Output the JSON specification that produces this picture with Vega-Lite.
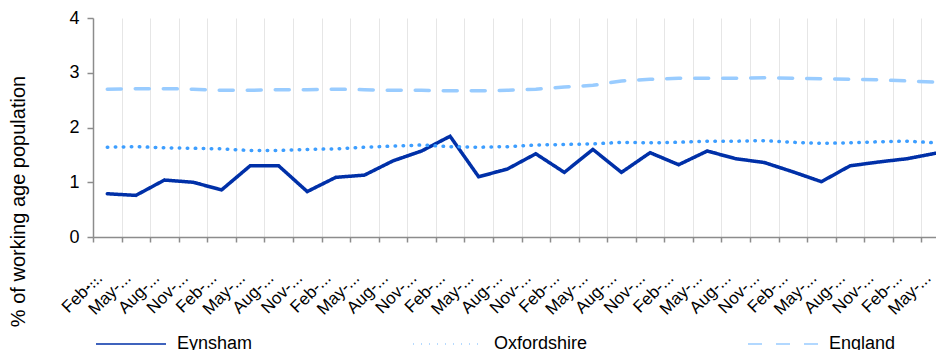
{
  "$schema": "https://vega.github.io/schema/vega-lite/v6.json",
  "width": 843,
  "height": 219,
  "autosize": {"type": "none"},
  "padding": {"left": 93, "top": 18, "right": 0, "bottom": 113},
  "config": {"font": "Liberation Sans", "view": {"stroke": null}},
  "data": {
    "values": [
      {"period": "Feb-2012", "Eynsham": 0.79, "Oxfordshire": 1.64, "England": 2.70},
      {"period": "May-2012", "Eynsham": 0.76, "Oxfordshire": 1.65, "England": 2.71},
      {"period": "Aug-2012", "Eynsham": 1.04, "Oxfordshire": 1.63, "England": 2.71},
      {"period": "Nov-2012", "Eynsham": 1.00, "Oxfordshire": 1.62, "England": 2.70},
      {"period": "Feb-2013", "Eynsham": 0.86, "Oxfordshire": 1.61, "England": 2.68},
      {"period": "May-2013", "Eynsham": 1.30, "Oxfordshire": 1.58, "England": 2.68},
      {"period": "Aug-2013", "Eynsham": 1.30, "Oxfordshire": 1.58, "England": 2.69},
      {"period": "Nov-2013", "Eynsham": 0.83, "Oxfordshire": 1.60, "England": 2.69},
      {"period": "Feb-2014", "Eynsham": 1.09, "Oxfordshire": 1.61, "England": 2.70},
      {"period": "May-2014", "Eynsham": 1.13, "Oxfordshire": 1.64, "England": 2.69},
      {"period": "Aug-2014", "Eynsham": 1.39, "Oxfordshire": 1.66, "England": 2.68},
      {"period": "Nov-2014", "Eynsham": 1.57, "Oxfordshire": 1.68, "England": 2.68},
      {"period": "Feb-2015", "Eynsham": 1.84, "Oxfordshire": 1.65, "England": 2.67},
      {"period": "May-2015", "Eynsham": 1.10, "Oxfordshire": 1.64, "England": 2.67},
      {"period": "Aug-2015", "Eynsham": 1.24, "Oxfordshire": 1.65, "England": 2.68},
      {"period": "Nov-2015", "Eynsham": 1.52, "Oxfordshire": 1.68, "England": 2.70},
      {"period": "Feb-2016", "Eynsham": 1.18, "Oxfordshire": 1.69, "England": 2.74},
      {"period": "May-2016", "Eynsham": 1.60, "Oxfordshire": 1.70, "England": 2.77},
      {"period": "Aug-2016", "Eynsham": 1.18, "Oxfordshire": 1.73, "England": 2.85},
      {"period": "Nov-2016", "Eynsham": 1.54, "Oxfordshire": 1.72, "England": 2.88},
      {"period": "Feb-2017", "Eynsham": 1.32, "Oxfordshire": 1.73, "England": 2.90},
      {"period": "May-2017", "Eynsham": 1.57, "Oxfordshire": 1.75, "England": 2.90},
      {"period": "Aug-2017", "Eynsham": 1.43, "Oxfordshire": 1.75, "England": 2.90},
      {"period": "Nov-2017", "Eynsham": 1.36, "Oxfordshire": 1.76, "England": 2.91},
      {"period": "Feb-2018", "Eynsham": 1.19, "Oxfordshire": 1.73, "England": 2.90},
      {"period": "May-2018", "Eynsham": 1.01, "Oxfordshire": 1.71, "England": 2.89},
      {"period": "Aug-2018", "Eynsham": 1.30, "Oxfordshire": 1.72, "England": 2.88},
      {"period": "Nov-2018", "Eynsham": 1.37, "Oxfordshire": 1.74, "England": 2.87},
      {"period": "Feb-2019", "Eynsham": 1.43, "Oxfordshire": 1.75, "England": 2.85},
      {"period": "May-2019", "Eynsham": 1.53, "Oxfordshire": 1.72, "England": 2.83}
    ]
  },
  "transform": [{"fold": ["Eynsham", "Oxfordshire", "England"], "as": ["series", "value"]}],
  "mark": {"type": "line", "strokeCap": "round", "strokeJoin": "miter", "strokeWidth": 3.5},
  "encoding": {
    "x": {
      "field": "period",
      "type": "ordinal",
      "sort": null,
      "bandPosition": 0.5,
      "scale": {"type": "band", "range": [0, 857], "paddingInner": 0, "paddingOuter": 0},
      "axis": {
        "title": null,
        "tickBand": "extent",
        "grid": true,
        "gridColor": "#e6e6e6",
        "gridWidth": 1,
        "domainColor": "#8c8c8c",
        "domainWidth": 1.5,
        "tickColor": "#8c8c8c",
        "tickSize": 5,
        "tickWidth": 1.5,
        "labelAngle": -45,
        "labelAlign": "right",
        "labelBaseline": "middle",
        "labelFontSize": 17,
        "labelColor": "#000000",
        "labelPadding": 33,
        "labelOffset": -8,
        "labelOverlap": false,
        "labelExpr": "slice(datum.label, 0, 4) + '...'"
      }
    },
    "y": {
      "field": "value",
      "type": "quantitative",
      "scale": {"domain": [0, 4]},
      "axis": {
        "values": [0, 1, 2, 3, 4],
        "grid": false,
        "domainColor": "#8c8c8c",
        "domainWidth": 1.5,
        "tickColor": "#8c8c8c",
        "tickSize": 6,
        "tickWidth": 1.5,
        "labelFontSize": 18,
        "labelColor": "#000000",
        "labelPadding": 8,
        "title": "%  of working age population",
        "titleFontSize": 20,
        "titleFontWeight": "normal",
        "titleColor": "#000000",
        "titlePadding": 40,
        "titleY": 183,
        "titleAlign": "center"
      }
    },
    "color": {
      "field": "series",
      "type": "nominal",
      "scale": {"domain": ["Eynsham", "Oxfordshire", "England"], "range": ["#0030a8", "#3d9eff", "#99ccff"]},
      "legend": {
        "orient": "none", "legendX": 2, "legendY": 290, "direction": "horizontal", "title": null,
        "symbolType": "stroke", "symbolSize": 4900, "symbolStrokeWidth": 1.5,
        "labelFontSize": 18, "labelColor": "#000000", "labelOffset": 10, "columnPadding": 157, "padding": 0,
        "encode": {
          "symbols": {
            "update": {
              "strokeWidth": {"value": 1.5},
              "strokeCap": {"value": "butt"},
              "strokeDash": {"signal": "datum.label === 'England' ? [5, 3] : datum.label === 'Oxfordshire' ? [1, 1.5] : [1, 0]"}
            }
          }
        }
      }
    },
    "strokeDash": {
      "field": "series",
      "type": "nominal",
      "scale": {"domain": ["Eynsham", "Oxfordshire", "England"], "range": [[1, 0], [0.5, 7.5], [14, 14]]},
      "legend": {
        "orient": "none", "legendX": 2, "legendY": 290, "direction": "horizontal", "title": null,
        "symbolType": "stroke", "symbolSize": 4900, "symbolStrokeWidth": 1.5,
        "labelFontSize": 18, "labelColor": "#000000", "labelOffset": 10, "columnPadding": 157, "padding": 0,
        "encode": {
          "symbols": {
            "update": {
              "strokeWidth": {"value": 1.5},
              "strokeCap": {"value": "butt"},
              "strokeDash": {"signal": "datum.label === 'England' ? [5, 3] : datum.label === 'Oxfordshire' ? [1, 1.5] : [1, 0]"}
            }
          }
        }
      }
    }
  }
}
